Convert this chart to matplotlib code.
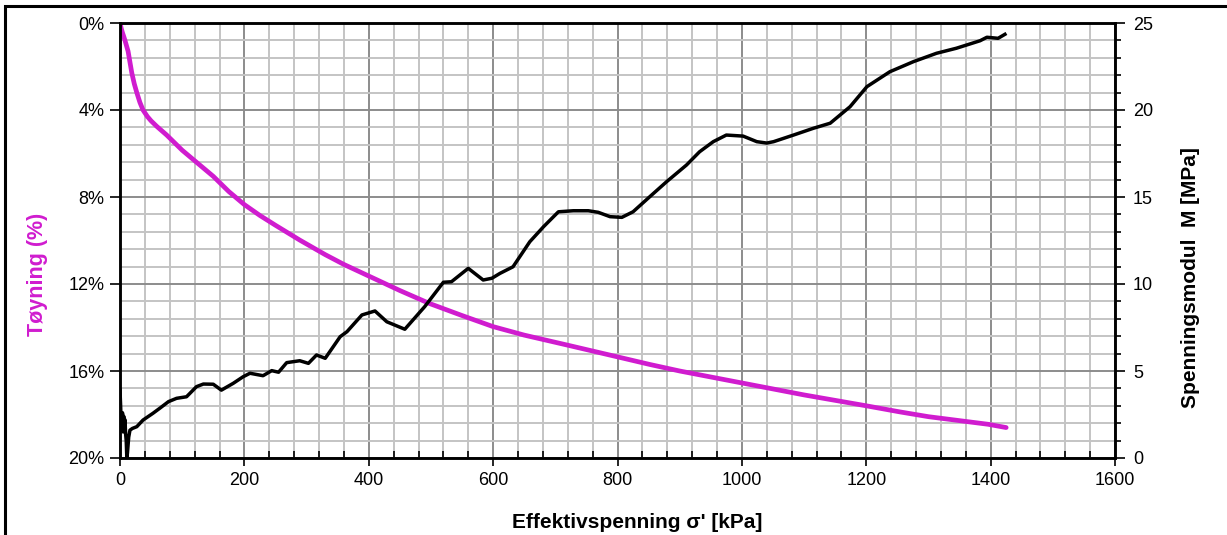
import numpy as np
import matplotlib
matplotlib.use("Agg")
import matplotlib.pyplot as plt
from matplotlib.ticker import MultipleLocator, FuncFormatter
from matplotlib.patches import Rectangle

plt.rcParams['font.family'] = ['Liberation Sans', 'DejaVu Sans']

## Toyning (strain) curve
strain_kpa = [0, 2, 4, 6, 8, 10, 13, 16, 19, 23, 27, 32, 37, 44, 50, 59, 75, 100,
              125, 150, 175, 200, 225, 250, 289, 330, 360, 399, 450, 498, 550,
              600, 650, 718, 800, 852, 900, 1000, 1100, 1200, 1254, 1300, 1396,
              1425]
strain_pct = [0, 0.25, 0.45, 0.62, 0.8, 1.0, 1.3, 1.8, 2.3, 2.8, 3.2, 3.65, 4.0,
              4.3, 4.5, 4.75, 5.15, 5.85, 6.45, 7.05, 7.75, 8.35, 8.85, 9.3, 9.98,
              10.65, 11.1, 11.62, 12.3, 12.9, 13.45, 13.96, 14.35, 14.8, 15.35,
              15.7, 16.0, 16.55, 17.1, 17.6, 17.88, 18.1, 18.45, 18.6]

## Spenningsmodul M curve
modul_kpa = [0, 1, 2, 3, 4, 5, 6, 7, 8, 9, 10, 11, 12, 14, 16, 20, 27, 37, 53, 64,
             78, 91, 107, 123, 134, 150, 163, 182, 198, 209, 230, 244, 255, 268,
             289, 303, 316, 330, 354, 365, 389, 410, 429, 458, 490, 520, 533, 560,
             584, 598, 611, 632, 659, 681, 705, 729, 753, 769, 788, 807, 825, 852,
             879, 911, 932, 954, 975, 1002, 1024, 1040, 1051, 1083, 1115, 1142,
             1174, 1201, 1238, 1276, 1313, 1345, 1383, 1394, 1412, 1423]
modul_mpa = [3.9, 3.0, 2.0, 1.6, 2.6, 1.5, 2.4, 1.7, 2.2, 1.4, 1.0, 0.0, 0.3, 1.2,
             1.6, 1.7, 1.8, 2.18, 2.57, 2.86, 3.24, 3.43, 3.52, 4.1, 4.25, 4.24,
             3.9, 4.29, 4.67, 4.87, 4.73, 5.02, 4.93, 5.48, 5.59, 5.44, 5.92, 5.73,
             6.97, 7.26, 8.22, 8.45, 7.83, 7.4, 8.7, 10.1, 10.13, 10.9, 10.23,
             10.33, 10.61, 10.99, 12.43, 13.29, 14.15, 14.21, 14.21, 14.12, 13.87,
             13.83, 14.15, 15.02, 15.88, 16.84, 17.6, 18.18, 18.56, 18.5, 18.18,
             18.1, 18.18, 18.56, 18.95, 19.24, 20.19, 21.34, 22.2, 22.78, 23.26,
             23.55, 23.98, 24.18, 24.12, 24.35]

magenta = '#D01CCF'

fig = plt.figure(figsize=(12.27, 5.35), dpi=100)
ax = fig.add_axes([120/1227, 1-458/535, 995/1227, 435/535])
ax2 = ax.twinx()

## grid on the main axis so it stays under the lines
ax.set_xlim(0, 1600)
ax.set_ylim(20, 0)
ax.xaxis.set_major_locator(MultipleLocator(200))
ax.xaxis.set_minor_locator(MultipleLocator(40))
ax.yaxis.set_major_locator(MultipleLocator(4))
ax.yaxis.set_minor_locator(MultipleLocator(0.8))
ax.yaxis.set_major_formatter(FuncFormatter(lambda v, p: '%d%%' % v))
ax.grid(which='major', color='#8c8c8c', lw=1.4)
ax.grid(which='minor', color='#c4c4c4', lw=1.4)
ax.set_axisbelow(True)

ax.plot(strain_kpa, strain_pct, color=magenta, lw=3.4, solid_capstyle='round',
        solid_joinstyle='round')

ax2.set_ylim(0, 25)
ax2.yaxis.set_major_locator(MultipleLocator(5))
ax2.yaxis.set_minor_locator(MultipleLocator(1))
ax2.plot(modul_kpa, modul_mpa, color='black', lw=2.5, solid_joinstyle='round')

for a in (ax, ax2):
    for s in a.spines.values():
        s.set_linewidth(1.8)
        s.set_color('black')

ax.tick_params(axis='x', which='major', direction='out', length=6, width=1.2,
               labelsize=13, pad=4)
ax.tick_params(axis='x', which='minor', direction='in', length=5, width=1.2)
ax.tick_params(axis='y', which='major', direction='out', length=7, width=1.2,
               labelsize=13, pad=4)
ax.tick_params(axis='y', which='minor', length=0)
ax2.tick_params(axis='y', which='major', direction='out', length=7, width=1.2,
                labelsize=13, pad=6)
ax2.tick_params(axis='y', which='minor', direction='out', length=4, width=1.2)

fig.text(637/1227, 1-522/535, "Effektivspenning \u03c3' [kPa]", ha='center',
         va='center', fontsize=15, fontweight='bold')
fig.text(38/1227, 1-274/535, 'T\u00f8yning (%)', ha='center', va='center',
         rotation=90, fontsize=15.5, fontweight='bold', color=magenta)
fig.text(1190/1227, 1-278/535, 'Spenningsmodul  M [MPa]', ha='center',
         va='center', rotation=90, fontsize=15, fontweight='bold')

## outer frame, cut at right and bottom like the original
fig.patches.append(Rectangle((4.5/1227, -0.05), 1.1, 1-6/535+0.05,
                             transform=fig.transFigure, fill=False,
                             lw=2.2, ec='black'))

fig.savefig('out.png', dpi=100)
